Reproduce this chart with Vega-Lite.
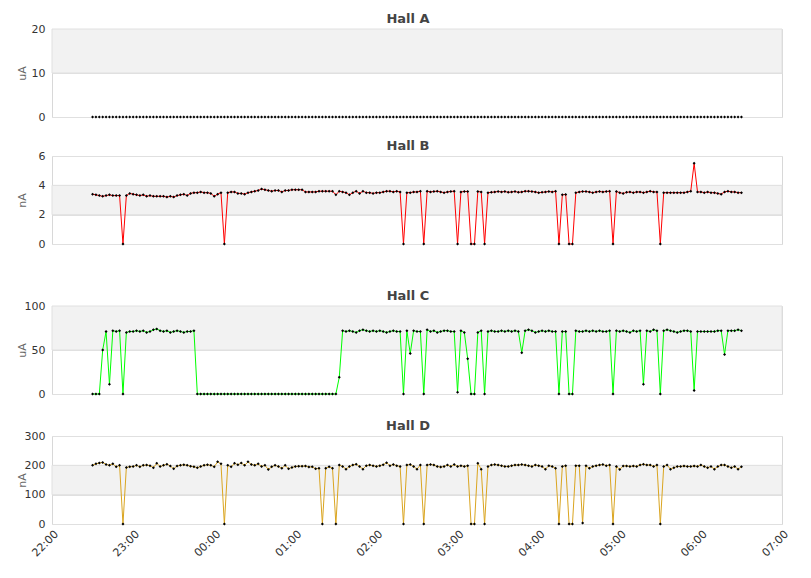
{
  "$schema": "https://vega.github.io/schema/vega-lite/v6.json",
  "padding": {"left": 15, "top": 12, "right": 20, "bottom": 5},
  "config": {
    "font": "DejaVu Sans",
    "view": {"stroke": "#d8d8d8"},
    "axis": {
      "labelFont": "DejaVu Sans", "labelFontSize": 11, "labelColor": "#333333", "labelOverlap": false,
      "titleFont": "DejaVu Sans", "titleFontSize": 11, "titleFontWeight": "normal", "titleColor": "#666666",
      "gridColor": "#e0e0e0", "domain": false, "ticks": false
    },
    "axisY": {"labelPadding": 7, "titleX": -25},
    "title": {"font": "DejaVu Sans", "fontSize": 13, "fontWeight": "bold", "color": "#444444", "offset": -3, "dx": -9}
  },
  "datasets": {
    "halls": [
      {"t":"2024-01-01T22:30","a":0,"b":3.4,"c":0,"d":200},
      {"t":"2024-01-01T22:32:30","a":0,"b":3.35,"c":0,"d":205},
      {"t":"2024-01-01T22:35","a":0,"b":3.3,"c":0,"d":208},
      {"t":"2024-01-01T22:37:30","a":0,"b":3.25,"c":50,"d":210},
      {"t":"2024-01-01T22:40","a":0,"b":3.3,"c":71,"d":203},
      {"t":"2024-01-01T22:42:30","a":0,"b":3.35,"c":11,"d":200},
      {"t":"2024-01-01T22:45","a":0,"b":3.3,"c":72,"d":205},
      {"t":"2024-01-01T22:47:30","a":0,"b":3.3,"c":71,"d":195},
      {"t":"2024-01-01T22:50","a":0,"b":3.3,"c":72,"d":200},
      {"t":"2024-01-01T22:52:30","a":0,"b":0,"c":0,"d":0},
      {"t":"2024-01-01T22:55","a":0,"b":3.3,"c":70,"d":193},
      {"t":"2024-01-01T22:57:30","a":0,"b":3.45,"c":71,"d":195},
      {"t":"2024-01-01T23:00","a":0,"b":3.4,"c":71,"d":196},
      {"t":"2024-01-01T23:02:30","a":0,"b":3.35,"c":72,"d":200},
      {"t":"2024-01-01T23:05","a":0,"b":3.3,"c":71,"d":195},
      {"t":"2024-01-01T23:07:30","a":0,"b":3.35,"c":72,"d":200},
      {"t":"2024-01-01T23:10","a":0,"b":3.25,"c":70,"d":201},
      {"t":"2024-01-01T23:12:30","a":0,"b":3.3,"c":71,"d":199},
      {"t":"2024-01-01T23:15","a":0,"b":3.25,"c":73,"d":192},
      {"t":"2024-01-01T23:17:30","a":0,"b":3.25,"c":74,"d":207},
      {"t":"2024-01-01T23:20","a":0,"b":3.25,"c":72,"d":196},
      {"t":"2024-01-01T23:22:30","a":0,"b":3.25,"c":71,"d":200},
      {"t":"2024-01-01T23:25","a":0,"b":3.2,"c":72,"d":204},
      {"t":"2024-01-01T23:27:30","a":0,"b":3.25,"c":70,"d":198},
      {"t":"2024-01-01T23:30","a":0,"b":3.2,"c":71,"d":188},
      {"t":"2024-01-01T23:32:30","a":0,"b":3.3,"c":72,"d":198},
      {"t":"2024-01-01T23:35","a":0,"b":3.35,"c":71,"d":200},
      {"t":"2024-01-01T23:37:30","a":0,"b":3.4,"c":70,"d":202},
      {"t":"2024-01-01T23:40","a":0,"b":3.3,"c":71,"d":200},
      {"t":"2024-01-01T23:42:30","a":0,"b":3.45,"c":71,"d":197},
      {"t":"2024-01-01T23:45","a":0,"b":3.5,"c":72,"d":195},
      {"t":"2024-01-01T23:47:30","a":0,"b":3.5,"c":0,"d":192},
      {"t":"2024-01-01T23:50","a":0,"b":3.55,"c":0,"d":196},
      {"t":"2024-01-01T23:52:30","a":0,"b":3.5,"c":0,"d":200},
      {"t":"2024-01-01T23:55","a":0,"b":3.5,"c":0,"d":202},
      {"t":"2024-01-01T23:57:30","a":0,"b":3.45,"c":0,"d":200},
      {"t":"2024-01-02T00:00","a":0,"b":3.25,"c":0,"d":195},
      {"t":"2024-01-02T00:02:30","a":0,"b":3.4,"c":0,"d":212},
      {"t":"2024-01-02T00:05","a":0,"b":3.5,"c":0,"d":205},
      {"t":"2024-01-02T00:07:30","a":0,"b":0,"c":0,"d":0},
      {"t":"2024-01-02T00:10","a":0,"b":3.5,"c":0,"d":200},
      {"t":"2024-01-02T00:12:30","a":0,"b":3.55,"c":0,"d":195},
      {"t":"2024-01-02T00:15","a":0,"b":3.55,"c":0,"d":207},
      {"t":"2024-01-02T00:17:30","a":0,"b":3.45,"c":0,"d":202},
      {"t":"2024-01-02T00:20","a":0,"b":3.45,"c":0,"d":208},
      {"t":"2024-01-02T00:22:30","a":0,"b":3.4,"c":0,"d":200},
      {"t":"2024-01-02T00:25","a":0,"b":3.5,"c":0,"d":212},
      {"t":"2024-01-02T00:27:30","a":0,"b":3.55,"c":0,"d":203},
      {"t":"2024-01-02T00:30","a":0,"b":3.6,"c":0,"d":200},
      {"t":"2024-01-02T00:32:30","a":0,"b":3.65,"c":0,"d":205},
      {"t":"2024-01-02T00:35","a":0,"b":3.75,"c":0,"d":196},
      {"t":"2024-01-02T00:37:30","a":0,"b":3.7,"c":0,"d":200},
      {"t":"2024-01-02T00:40","a":0,"b":3.65,"c":0,"d":186},
      {"t":"2024-01-02T00:42:30","a":0,"b":3.6,"c":0,"d":195},
      {"t":"2024-01-02T00:45","a":0,"b":3.65,"c":0,"d":200},
      {"t":"2024-01-02T00:47:30","a":0,"b":3.65,"c":0,"d":196},
      {"t":"2024-01-02T00:50","a":0,"b":3.55,"c":0,"d":190},
      {"t":"2024-01-02T00:52:30","a":0,"b":3.65,"c":0,"d":200},
      {"t":"2024-01-02T00:55","a":0,"b":3.65,"c":0,"d":188},
      {"t":"2024-01-02T00:57:30","a":0,"b":3.7,"c":0,"d":193},
      {"t":"2024-01-02T01:00","a":0,"b":3.7,"c":0,"d":196},
      {"t":"2024-01-02T01:02:30","a":0,"b":3.7,"c":0,"d":197},
      {"t":"2024-01-02T01:05","a":0,"b":3.7,"c":0,"d":197},
      {"t":"2024-01-02T01:07:30","a":0,"b":3.55,"c":0,"d":198},
      {"t":"2024-01-02T01:10","a":0,"b":3.55,"c":0,"d":194},
      {"t":"2024-01-02T01:12:30","a":0,"b":3.55,"c":0,"d":195},
      {"t":"2024-01-02T01:15","a":0,"b":3.55,"c":0,"d":188},
      {"t":"2024-01-02T01:17:30","a":0,"b":3.6,"c":0,"d":190},
      {"t":"2024-01-02T01:20","a":0,"b":3.6,"c":0,"d":0},
      {"t":"2024-01-02T01:22:30","a":0,"b":3.6,"c":0,"d":190},
      {"t":"2024-01-02T01:25","a":0,"b":3.6,"c":0,"d":195},
      {"t":"2024-01-02T01:27:30","a":0,"b":3.6,"c":0,"d":190},
      {"t":"2024-01-02T01:30","a":0,"b":3.35,"c":0,"d":0},
      {"t":"2024-01-02T01:32:30","a":0,"b":3.6,"c":19,"d":201},
      {"t":"2024-01-02T01:35","a":0,"b":3.55,"c":72,"d":196},
      {"t":"2024-01-02T01:37:30","a":0,"b":3.5,"c":71,"d":187},
      {"t":"2024-01-02T01:40","a":0,"b":3.35,"c":72,"d":196},
      {"t":"2024-01-02T01:42:30","a":0,"b":3.5,"c":71,"d":201},
      {"t":"2024-01-02T01:45","a":0,"b":3.6,"c":70,"d":204},
      {"t":"2024-01-02T01:47:30","a":0,"b":3.45,"c":72,"d":196},
      {"t":"2024-01-02T01:50","a":0,"b":3.6,"c":73,"d":187},
      {"t":"2024-01-02T01:52:30","a":0,"b":3.5,"c":72,"d":199},
      {"t":"2024-01-02T01:55","a":0,"b":3.5,"c":71,"d":201},
      {"t":"2024-01-02T01:57:30","a":0,"b":3.45,"c":72,"d":199},
      {"t":"2024-01-02T02:00","a":0,"b":3.5,"c":71,"d":196},
      {"t":"2024-01-02T02:02:30","a":0,"b":3.5,"c":72,"d":199},
      {"t":"2024-01-02T02:05","a":0,"b":3.55,"c":71,"d":202},
      {"t":"2024-01-02T02:07:30","a":0,"b":3.6,"c":70,"d":209},
      {"t":"2024-01-02T02:10","a":0,"b":3.6,"c":71,"d":199},
      {"t":"2024-01-02T02:12:30","a":0,"b":3.55,"c":72,"d":203},
      {"t":"2024-01-02T02:15","a":0,"b":3.6,"c":71,"d":199},
      {"t":"2024-01-02T02:17:30","a":0,"b":3.55,"c":71,"d":196},
      {"t":"2024-01-02T02:20","a":0,"b":0,"c":0,"d":0},
      {"t":"2024-01-02T02:22:30","a":0,"b":3.5,"c":72,"d":201},
      {"t":"2024-01-02T02:25","a":0,"b":3.5,"c":46,"d":203},
      {"t":"2024-01-02T02:27:30","a":0,"b":3.55,"c":72,"d":196},
      {"t":"2024-01-02T02:30","a":0,"b":3.55,"c":71,"d":187},
      {"t":"2024-01-02T02:32:30","a":0,"b":3.6,"c":71,"d":201},
      {"t":"2024-01-02T02:35","a":0,"b":0,"c":0,"d":0},
      {"t":"2024-01-02T02:37:30","a":0,"b":3.6,"c":73,"d":201},
      {"t":"2024-01-02T02:40","a":0,"b":3.55,"c":71,"d":203},
      {"t":"2024-01-02T02:42:30","a":0,"b":3.58,"c":72,"d":201},
      {"t":"2024-01-02T02:45","a":0,"b":3.6,"c":70,"d":196},
      {"t":"2024-01-02T02:47:30","a":0,"b":3.55,"c":71,"d":194},
      {"t":"2024-01-02T02:50","a":0,"b":3.5,"c":72,"d":196},
      {"t":"2024-01-02T02:52:30","a":0,"b":3.55,"c":72,"d":201},
      {"t":"2024-01-02T02:55","a":0,"b":3.58,"c":71,"d":196},
      {"t":"2024-01-02T02:57:30","a":0,"b":3.6,"c":71,"d":203},
      {"t":"2024-01-02T03:00","a":0,"b":0,"c":2,"d":196},
      {"t":"2024-01-02T03:02:30","a":0,"b":3.55,"c":72,"d":199},
      {"t":"2024-01-02T03:05","a":0,"b":3.58,"c":70,"d":196},
      {"t":"2024-01-02T03:07:30","a":0,"b":3.58,"c":40,"d":199},
      {"t":"2024-01-02T03:10","a":0,"b":0,"c":0,"d":0},
      {"t":"2024-01-02T03:12:30","a":0,"b":0,"c":0,"d":0},
      {"t":"2024-01-02T03:15","a":0,"b":3.58,"c":70,"d":207},
      {"t":"2024-01-02T03:17:30","a":0,"b":3.55,"c":72,"d":187},
      {"t":"2024-01-02T03:20","a":0,"b":0,"c":0,"d":0},
      {"t":"2024-01-02T03:22:30","a":0,"b":3.5,"c":71,"d":196},
      {"t":"2024-01-02T03:25","a":0,"b":3.52,"c":72,"d":201},
      {"t":"2024-01-02T03:27:30","a":0,"b":3.55,"c":71,"d":203},
      {"t":"2024-01-02T03:30","a":0,"b":3.58,"c":71,"d":201},
      {"t":"2024-01-02T03:32:30","a":0,"b":3.55,"c":72,"d":199},
      {"t":"2024-01-02T03:35","a":0,"b":3.58,"c":71,"d":196},
      {"t":"2024-01-02T03:37:30","a":0,"b":3.52,"c":72,"d":196},
      {"t":"2024-01-02T03:40","a":0,"b":3.55,"c":71,"d":199},
      {"t":"2024-01-02T03:42:30","a":0,"b":3.58,"c":72,"d":201},
      {"t":"2024-01-02T03:45","a":0,"b":3.52,"c":71,"d":201},
      {"t":"2024-01-02T03:47:30","a":0,"b":3.55,"c":47,"d":203},
      {"t":"2024-01-02T03:50","a":0,"b":3.6,"c":72,"d":201},
      {"t":"2024-01-02T03:52:30","a":0,"b":3.6,"c":73,"d":199},
      {"t":"2024-01-02T03:55","a":0,"b":3.58,"c":72,"d":196},
      {"t":"2024-01-02T03:57:30","a":0,"b":3.55,"c":70,"d":201},
      {"t":"2024-01-02T04:00","a":0,"b":3.5,"c":71,"d":199},
      {"t":"2024-01-02T04:02:30","a":0,"b":3.52,"c":72,"d":196},
      {"t":"2024-01-02T04:05","a":0,"b":3.55,"c":71,"d":187},
      {"t":"2024-01-02T04:07:30","a":0,"b":3.58,"c":72,"d":199},
      {"t":"2024-01-02T04:10","a":0,"b":3.55,"c":71,"d":196},
      {"t":"2024-01-02T04:12:30","a":0,"b":3.6,"c":71,"d":190},
      {"t":"2024-01-02T04:15","a":0,"b":0,"c":0,"d":0},
      {"t":"2024-01-02T04:17:30","a":0,"b":3.35,"c":71,"d":196},
      {"t":"2024-01-02T04:20","a":0,"b":3.38,"c":71,"d":199},
      {"t":"2024-01-02T04:22:30","a":0,"b":0,"c":0,"d":0},
      {"t":"2024-01-02T04:25","a":0,"b":0,"c":0,"d":0},
      {"t":"2024-01-02T04:27:30","a":0,"b":3.5,"c":72,"d":199},
      {"t":"2024-01-02T04:30","a":0,"b":3.55,"c":71,"d":199},
      {"t":"2024-01-02T04:32:30","a":0,"b":3.58,"c":71,"d":3},
      {"t":"2024-01-02T04:35","a":0,"b":3.58,"c":72,"d":199},
      {"t":"2024-01-02T04:37:30","a":0,"b":3.55,"c":71,"d":190},
      {"t":"2024-01-02T04:40","a":0,"b":3.5,"c":72,"d":196},
      {"t":"2024-01-02T04:42:30","a":0,"b":3.55,"c":71,"d":199},
      {"t":"2024-01-02T04:45","a":0,"b":3.58,"c":72,"d":201},
      {"t":"2024-01-02T04:47:30","a":0,"b":3.55,"c":71,"d":203},
      {"t":"2024-01-02T04:50","a":0,"b":3.58,"c":71,"d":199},
      {"t":"2024-01-02T04:52:30","a":0,"b":3.6,"c":72,"d":201},
      {"t":"2024-01-02T04:55","a":0,"b":0,"c":0,"d":0},
      {"t":"2024-01-02T04:57:30","a":0,"b":3.58,"c":72,"d":196},
      {"t":"2024-01-02T05:00","a":0,"b":3.5,"c":71,"d":186},
      {"t":"2024-01-02T05:02:30","a":0,"b":3.45,"c":72,"d":198},
      {"t":"2024-01-02T05:05","a":0,"b":3.52,"c":71,"d":198},
      {"t":"2024-01-02T05:07:30","a":0,"b":3.55,"c":70,"d":196},
      {"t":"2024-01-02T05:10","a":0,"b":3.5,"c":72,"d":198},
      {"t":"2024-01-02T05:12:30","a":0,"b":3.55,"c":71,"d":196},
      {"t":"2024-01-02T05:15","a":0,"b":3.55,"c":72,"d":201},
      {"t":"2024-01-02T05:17:30","a":0,"b":3.5,"c":11,"d":204},
      {"t":"2024-01-02T05:20","a":0,"b":3.55,"c":72,"d":201},
      {"t":"2024-01-02T05:22:30","a":0,"b":3.6,"c":71,"d":201},
      {"t":"2024-01-02T05:25","a":0,"b":3.55,"c":73,"d":196},
      {"t":"2024-01-02T05:27:30","a":0,"b":3.55,"c":72,"d":201},
      {"t":"2024-01-02T05:30","a":0,"b":0,"c":0,"d":0},
      {"t":"2024-01-02T05:32:30","a":0,"b":3.5,"c":72,"d":196},
      {"t":"2024-01-02T05:35","a":0,"b":3.5,"c":73,"d":201},
      {"t":"2024-01-02T05:37:30","a":0,"b":3.5,"c":72,"d":187},
      {"t":"2024-01-02T05:40","a":0,"b":3.5,"c":71,"d":192},
      {"t":"2024-01-02T05:42:30","a":0,"b":3.5,"c":70,"d":196},
      {"t":"2024-01-02T05:45","a":0,"b":3.5,"c":71,"d":196},
      {"t":"2024-01-02T05:47:30","a":0,"b":3.5,"c":72,"d":198},
      {"t":"2024-01-02T05:50","a":0,"b":3.55,"c":72,"d":196},
      {"t":"2024-01-02T05:52:30","a":0,"b":3.6,"c":71,"d":196},
      {"t":"2024-01-02T05:55","a":0,"b":5.5,"c":4,"d":198},
      {"t":"2024-01-02T05:57:30","a":0,"b":3.55,"c":71,"d":196},
      {"t":"2024-01-02T06:00","a":0,"b":3.55,"c":71,"d":201},
      {"t":"2024-01-02T06:02:30","a":0,"b":3.5,"c":71,"d":196},
      {"t":"2024-01-02T06:05","a":0,"b":3.55,"c":71,"d":192},
      {"t":"2024-01-02T06:07:30","a":0,"b":3.5,"c":71,"d":196},
      {"t":"2024-01-02T06:10","a":0,"b":3.5,"c":71,"d":187},
      {"t":"2024-01-02T06:12:30","a":0,"b":3.45,"c":72,"d":196},
      {"t":"2024-01-02T06:15","a":0,"b":3.4,"c":72,"d":201},
      {"t":"2024-01-02T06:17:30","a":0,"b":3.55,"c":45,"d":201},
      {"t":"2024-01-02T06:20","a":0,"b":3.6,"c":72,"d":196},
      {"t":"2024-01-02T06:22:30","a":0,"b":3.55,"c":72,"d":192},
      {"t":"2024-01-02T06:25","a":0,"b":3.55,"c":72,"d":196},
      {"t":"2024-01-02T06:27:30","a":0,"b":3.5,"c":73,"d":187},
      {"t":"2024-01-02T06:30","a":0,"b":3.5,"c":72,"d":195}
    ]
  },
  "spacing": 39,
  "vconcat": [
    {
      "spacing": 16,
      "vconcat": [
        {
          "title": "Hall A",
          "width": 730,
          "height": 88,
          "layer": [
            {
              "data": {"values": [{"x0": "2024-01-01T22:00", "x1": "2024-01-02T07:00", "lo": 10, "hi": 20}]},
              "mark": {"type": "rect", "color": "#f2f2f2", "stroke": "#e0e0e0", "strokeWidth": 1},
              "encoding": {
                "x": {"field": "x0", "type": "temporal", "axis": null},
                "x2": {"field": "x1"},
                "y": {"field": "lo", "type": "quantitative", "title": "uA", "scale": {"domain": [0, 20]}, "axis": {"values": [0, 10, 20], "labelOverlap": false}},
                "y2": {"field": "hi"}
              }
            },
            {
              "data": {"name": "halls"},
              "encoding": {
                "x": {"field": "t", "type": "temporal", "axis": null},
                "y": {"field": "a", "type": "quantitative", "title": "uA", "scale": {"domain": [0, 20]}, "axis": {"values": [0, 10, 20], "labelOverlap": false}}
              },
              "layer": [
                {"mark": {"type": "line", "color": "#ffffff", "strokeWidth": 1}},
                {"mark": {"type": "point", "shape": "diamond", "filled": true, "color": "#000000", "size": 9, "opacity": 1}}
              ]
            }
          ]
        },
        {
          "title": "Hall B",
          "width": 730,
          "height": 88,
          "layer": [
            {
              "data": {"values": [{"x0": "2024-01-01T22:00", "x1": "2024-01-02T07:00", "lo": 2, "hi": 4}]},
              "mark": {"type": "rect", "color": "#f2f2f2", "stroke": "#e0e0e0", "strokeWidth": 1},
              "encoding": {
                "x": {"field": "x0", "type": "temporal", "axis": null},
                "x2": {"field": "x1"},
                "y": {"field": "lo", "type": "quantitative", "title": "nA", "scale": {"domain": [0, 6]}, "axis": {"values": [0, 2, 4, 6], "labelOverlap": false}},
                "y2": {"field": "hi"}
              }
            },
            {
              "data": {"name": "halls"},
              "encoding": {
                "x": {"field": "t", "type": "temporal", "axis": null},
                "y": {"field": "b", "type": "quantitative", "title": "nA", "scale": {"domain": [0, 6]}, "axis": {"values": [0, 2, 4, 6], "labelOverlap": false}}
              },
              "layer": [
                {"mark": {"type": "line", "color": "#ff0000", "strokeWidth": 1}},
                {"mark": {"type": "point", "shape": "diamond", "filled": true, "color": "#000000", "size": 9, "opacity": 1}}
              ]
            }
          ]
        }
      ]
    },
    {
      "spacing": 19,
      "vconcat": [
        {
          "title": "Hall C",
          "width": 730,
          "height": 88,
          "layer": [
            {
              "data": {"values": [{"x0": "2024-01-01T22:00", "x1": "2024-01-02T07:00", "lo": 50, "hi": 100}]},
              "mark": {"type": "rect", "color": "#f2f2f2", "stroke": "#e0e0e0", "strokeWidth": 1},
              "encoding": {
                "x": {"field": "x0", "type": "temporal", "axis": null},
                "x2": {"field": "x1"},
                "y": {"field": "lo", "type": "quantitative", "title": "uA", "scale": {"domain": [0, 100]}, "axis": {"values": [0, 50, 100], "labelOverlap": false}},
                "y2": {"field": "hi"}
              }
            },
            {
              "data": {"name": "halls"},
              "encoding": {
                "x": {"field": "t", "type": "temporal", "axis": null},
                "y": {"field": "c", "type": "quantitative", "title": "uA", "scale": {"domain": [0, 100]}, "axis": {"values": [0, 50, 100], "labelOverlap": false}}
              },
              "layer": [
                {"mark": {"type": "line", "color": "#00ff00", "strokeWidth": 1}},
                {"mark": {"type": "point", "shape": "diamond", "filled": true, "color": "#000000", "size": 9, "opacity": 1}}
              ]
            }
          ]
        },
        {
          "title": "Hall D",
          "width": 730,
          "height": 88,
          "layer": [
            {
              "data": {"values": [{"x0": "2024-01-01T22:00", "x1": "2024-01-02T07:00", "lo": 100, "hi": 200}]},
              "mark": {"type": "rect", "color": "#f2f2f2", "stroke": "#e0e0e0", "strokeWidth": 1},
              "encoding": {
                "x": {"field": "x0", "type": "temporal", "title": null,
                      "axis": {"format": "%H:%M", "labelAngle": -45, "labelFlush": false, "labelOverlap": false, "grid": false, "tickCount": 9, "labelPadding": 4}},
                "x2": {"field": "x1"},
                "y": {"field": "lo", "type": "quantitative", "title": "nA", "scale": {"domain": [0, 300]}, "axis": {"values": [0, 100, 200, 300], "labelOverlap": false}},
                "y2": {"field": "hi"}
              }
            },
            {
              "data": {"name": "halls"},
              "encoding": {
                "x": {"field": "t", "type": "temporal", "title": null},
                "y": {"field": "d", "type": "quantitative", "title": "nA", "scale": {"domain": [0, 300]}, "axis": {"values": [0, 100, 200, 300], "labelOverlap": false}}
              },
              "layer": [
                {"mark": {"type": "line", "color": "#daa520", "strokeWidth": 1}},
                {"mark": {"type": "point", "shape": "diamond", "filled": true, "color": "#000000", "size": 9, "opacity": 1}}
              ]
            }
          ]
        }
      ]
    }
  ]
}
